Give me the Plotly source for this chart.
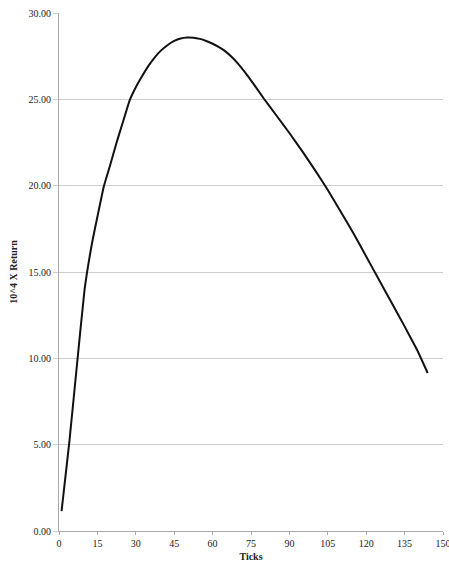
import plotly.graph_objects as go

ticks = [1, 4, 7, 10, 13, 15, 17.5, 20, 22.5, 25, 27.5, 30, 32.5, 35, 37.5, 40, 42.5, 45,
         47.5, 50, 52.5, 55, 57.5, 60, 62.5, 65, 67.5, 70, 75, 80, 85, 90, 95, 100, 105,
         110, 115, 120, 125, 130, 135, 140, 144]
returns = [1.15, 5.1, 9.6, 14.0, 16.75, 18.2, 19.95, 21.2, 22.5, 23.7, 24.9, 25.7, 26.35,
           26.95, 27.45, 27.85, 28.15, 28.38, 28.52, 28.58, 28.57, 28.5, 28.38, 28.22,
           28.02, 27.78, 27.45, 27.05, 26.1, 25.05, 24.05, 23.05, 22.0, 20.9, 19.75, 18.5,
           17.25, 15.9, 14.55, 13.2, 11.85, 10.45, 9.15]

x_tickvals = [0, 15, 30, 45, 60, 75, 90, 105, 120, 135, 150]
y_tickvals = [0, 5, 10, 15, 20, 25, 30]

font_family = "Liberation Serif"

fig = go.Figure()
fig.add_trace(go.Scatter(
    x=ticks, y=returns, mode="lines",
    line=dict(color="#111111", width=2, shape="spline", smoothing=0.3),
    showlegend=False, hoverinfo="skip",
))

fig.update_layout(
    width=449, height=572,
    margin=dict(l=59, r=6, t=13, b=41),
    paper_bgcolor="white", plot_bgcolor="white",
    font=dict(family=font_family, size=10, color="#222222"),
)
fig.update_xaxes(
    range=[0, 150], tickvals=x_tickvals, ticktext=[str(v) for v in x_tickvals],
    showgrid=False, zeroline=False, automargin=False, ticklabeloverflow="allow",
    showline=True, linecolor="#aaaaaa", linewidth=1,
    ticks="outside", ticklen=3, tickcolor="#aaaaaa",
    title=dict(text="<b>Ticks</b>", font=dict(family=font_family, size=10), standoff=4),
    tickfont=dict(family=font_family, size=10),
)
fig.update_yaxes(
    range=[0, 30], tickvals=y_tickvals, tickformat=".2f",
    showgrid=True, gridcolor="#cccccc", gridwidth=1, zeroline=False, automargin=False,
    ticklabeloverflow="allow",
    showline=True, linecolor="#aaaaaa", linewidth=1,
    ticks="outside", ticklen=5, tickcolor="#cccccc",
    title=dict(text="<b>10^4 X Return</b>", font=dict(family=font_family, size=10), standoff=9),
    tickfont=dict(family=font_family, size=10),
)

fig.write_html(
    "out.html",
    config={"displayModeBar": False, "staticPlot": True},
    post_script="document.body.style.margin='0';document.body.style.overflow='hidden';",
)
